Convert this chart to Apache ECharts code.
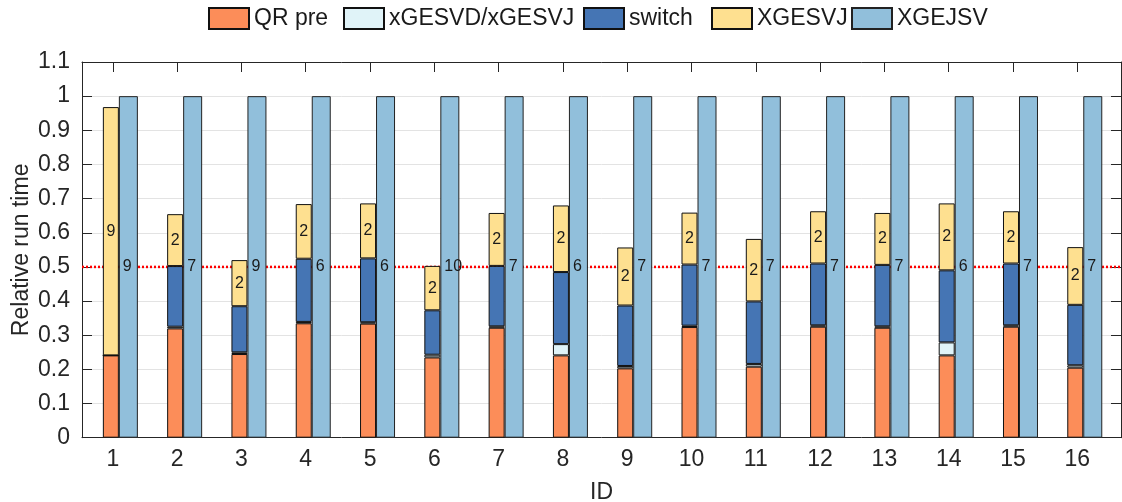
<!DOCTYPE html>
<html><head><meta charset="utf-8">
<script src="https://cdn.jsdelivr.net/npm/echarts@6/dist/echarts.min.js"></script>
<style>html,body{margin:0;padding:0;background:#fff}#c{width:1122px;height:502px}</style>
</head><body><div id="c"></div>
<script>
// ---- data ----
const ids = [1,2,3,4,5,6,7,8,9,10,11,12,13,14,15,16];
const qrPre   = [0.241,0.320,0.245,0.335,0.334,0.235,0.322,0.241,0.203,0.324,0.208,0.325,0.322,0.241,0.325,0.205];
const xgesvdJ = [0.000,0.005,0.005,0.004,0.004,0.008,0.004,0.033,0.007,0.004,0.008,0.004,0.004,0.038,0.004,0.007];
const switchT = [0.000,0.1775,0.135,0.185,0.187,0.130,0.177,0.211,0.177,0.179,0.183,0.181,0.180,0.211,0.181,0.177];
const xgesvj  = [0.727,0.152,0.135,0.160,0.161,0.130,0.155,0.195,0.170,0.152,0.183,0.153,0.152,0.196,0.153,0.169];
const xgejsv  = [1,1,1,1,1,1,1,1,1,1,1,1,1,1,1,1];
const xgesvjLabels = ['9','2','2','2','2','2','2','2','2','2','2','2','2','2','2','2'];
const xgejsvLabels = ['9','7','9','6','6','10','7','6','7','7','7','7','7','6','7','7'];
const seriesNames = ['QR pre','xGESVD/xGESVJ','switch','XGESVJ','XGEJSV'];
const threshold = 0.5;

// ---- layout / style ----
const xMin = 0.52, xMax = 16.68;
const plotLeft = 82, plotRight = 1, plotTop = 62, plotBottom = 64.3;
const unitPx = (1122 - plotLeft - plotRight) / (xMax - xMin);
const groupShiftPx = 7.5; // bar pair centre relative to the tick
// band grid for the bars: category centres line up with ticks (+shift)
const barGridLeft = plotLeft + (ids[0] - 0.5 - xMin) * unitPx + groupShiftPx;
const barGridRight = plotRight + (xMax - ids[ids.length - 1] - 0.5) * unitPx - groupShiftPx;

const colors = ['#fc8d59','#e0f3f8','#4575b4','#fee090','#91bfdb'];
const FONT = "'Liberation Sans', Arial, Helvetica, sans-serif";
const axisColor = '#262626';

const stackVals = [qrPre, xgesvdJ, switchT, xgesvj];
const series = [];
stackVals.forEach((arr, k) => {
  const s = {
    name: seriesNames[k], type: 'bar', stack: 'parts', z: 3,
    xAxisIndex: 2, yAxisIndex: 2,
    barWidth: 16, barGap: '0%',
    data: arr,
    itemStyle: {color: colors[k], borderColor: '#111', borderWidth: 1},
    emphasis: {disabled: true}
  };
  if (k === 3) {
    s.label = {show: true, position: 'inside', fontSize: 16, color: '#1a1a1a', fontFamily: FONT,
      formatter: p => xgesvjLabels[p.dataIndex]};
  }
  series.push(s);
});
series.push({
  name: seriesNames[4], type: 'bar', stack: 'total', z: 3,
  xAxisIndex: 2, yAxisIndex: 2,
  barWidth: 19, barGap: '0%',
  data: xgejsv,
  itemStyle: {color: colors[4], borderColor: '#222', borderWidth: 1},
  label: {show: true, position: 'insideLeft', distance: 4, fontSize: 16, color: '#1a1a1a', fontFamily: FONT,
    formatter: p => xgejsvLabels[p.dataIndex]},
  emphasis: {disabled: true}
});
series.push({
  name: 'threshold', type: 'line', z: 2, silent: true, symbol: 'none',
  xAxisIndex: 0, yAxisIndex: 0,
  data: [[xMin, threshold], [xMax, threshold]],
  lineStyle: {color: '#ff0000', width: 2.5, type: [2, 2]}
});

const legendLefts = [208, 343, 583, 711, 851];
const legends = seriesNames.map((n, i) => ({
  data: [n], left: legendLefts[i], top: 7, padding: 0,
  itemWidth: 40, itemHeight: 21, icon: 'rect', selectedMode: false,
  textStyle: {fontSize: 23, color: '#1a1a1a', fontFamily: FONT}
}));

const yAxisCommon = {
  type: 'value', min: 0, max: 1.1, interval: 0.1, gridIndex: 0,
  axisLine: {show: true, lineStyle: {color: axisColor, width: 1}},
  axisTick: {show: true, inside: true, length: 10, lineStyle: {color: axisColor}},
};

const option = {
  backgroundColor: '#fff',
  animation: false,
  textStyle: {fontFamily: FONT},
  legend: legends,
  grid: [
    {left: plotLeft, right: plotRight, top: plotTop, bottom: plotBottom, containLabel: false, outerBoundsMode: 'none'},
    {left: barGridLeft, right: barGridRight, top: plotTop, bottom: plotBottom, containLabel: false, outerBoundsMode: 'none'}
  ],
  xAxis: [{
    type: 'value', min: xMin, max: xMax, position: 'bottom', gridIndex: 0,
    name: 'ID', nameLocation: 'middle', nameGap: 43, nameMoveOverlap: false,
    nameTextStyle: {fontSize: 23, color: axisColor, fontFamily: FONT},
    axisLine: {show: true, onZero: false, lineStyle: {color: axisColor, width: 1}},
    axisTick: {show: true, inside: true, length: 10, customValues: ids, lineStyle: {color: axisColor}},
    axisLabel: {customValues: ids, fontSize: 23, color: axisColor, margin: 10, fontFamily: FONT,
      alignMinLabel: 'center', alignMaxLabel: 'center'},
    splitLine: {show: false}
  }, {
    type: 'value', min: xMin, max: xMax, position: 'top', gridIndex: 0,
    axisLine: {show: true, onZero: false, lineStyle: {color: axisColor, width: 1}},
    axisTick: {show: true, inside: true, length: 10, customValues: ids, lineStyle: {color: axisColor}},
    axisLabel: {show: false},
    splitLine: {show: false}
  }, {
    type: 'category', data: ids.map(String), gridIndex: 1, boundaryGap: true,
    axisLine: {show: false}, axisTick: {show: false}, axisLabel: {show: false}, splitLine: {show: false}
  }],
  yAxis: [Object.assign({}, yAxisCommon, {
    position: 'left',
    name: 'Relative run time', nameLocation: 'middle', nameGap: 49, nameMoveOverlap: false,
    nameTextStyle: {fontSize: 23, color: axisColor, fontFamily: FONT},
    axisLabel: {fontSize: 23, color: axisColor, margin: 12, fontFamily: FONT,
      verticalAlignMinLabel: 'middle', verticalAlignMaxLabel: 'middle'},
    splitLine: {show: true, lineStyle: {color: '#e3e3e3', width: 1}}
  }), Object.assign({}, yAxisCommon, {
    position: 'right',
    axisLabel: {show: false},
    splitLine: {show: false}
  }), {
    type: 'value', min: 0, max: 1.1, interval: 0.1, gridIndex: 1,
    axisLine: {show: false}, axisTick: {show: false}, axisLabel: {show: false}, splitLine: {show: false}
  }],
  series: series
};

const chart = echarts.init(document.getElementById('c'), null, {renderer: 'canvas'});
chart.setOption(option);
</script>
</body></html>
